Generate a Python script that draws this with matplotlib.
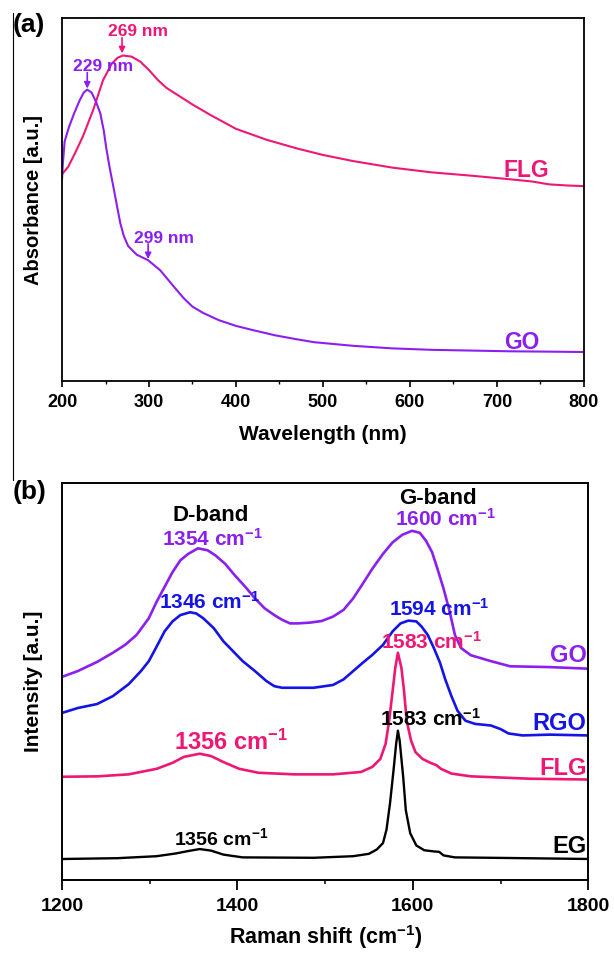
import matplotlib
matplotlib.use("Agg")
import matplotlib.pyplot as plt
from matplotlib.ticker import MultipleLocator
from matplotlib.lines import Line2D

plt.rcParams['font.family'] = ['Liberation Sans', 'DejaVu Sans']
plt.rcParams['font.weight'] = 'bold'
plt.rcParams['mathtext.fontset'] = 'custom'
plt.rcParams['mathtext.rm'] = 'Liberation Sans:bold'
plt.rcParams['mathtext.bf'] = 'Liberation Sans:bold'
plt.rcParams['mathtext.it'] = 'Liberation Sans:bold'
plt.rcParams['mathtext.default'] = 'rm'

# ---------------- data: panel (a) UV-vis ----------------
flg_uv_wl = [200, 207, 215, 224, 236, 247, 257, 264, 270, 280, 290, 300, 310, 320, 335,
             350, 370, 400, 435, 470, 500, 535, 580, 625, 670, 715, 740, 760, 780, 800]
flg_uv_abs = [0.570, 0.590, 0.628, 0.674, 0.748, 0.828, 0.874, 0.891, 0.897, 0.894, 0.880,
              0.857, 0.830, 0.808, 0.785, 0.762, 0.734, 0.695, 0.665, 0.641, 0.623, 0.606,
              0.588, 0.575, 0.566, 0.556, 0.550, 0.542, 0.539, 0.537]
go_uv_wl = [200, 201, 203, 208, 214, 220, 225, 229, 234, 239, 244, 248, 251, 255, 259, 263,
            267, 271, 276, 286, 299, 313, 330, 340, 350, 362, 380, 400, 420, 445, 470, 490,
            535, 580, 625, 670, 715, 760, 800]
go_uv_abs = [0.555, 0.600, 0.660, 0.700, 0.738, 0.772, 0.795, 0.803, 0.795, 0.770, 0.738,
             0.690, 0.640, 0.585, 0.536, 0.485, 0.435, 0.400, 0.372, 0.348, 0.333, 0.305,
             0.256, 0.228, 0.205, 0.188, 0.168, 0.152, 0.140, 0.126, 0.115, 0.107, 0.097,
             0.090, 0.086, 0.084, 0.082, 0.081, 0.080]
uv_xticks = [200, 300, 400, 500, 600, 700, 800]

# ---------------- data: panel (b) Raman ----------------
go_ram_x = [1202, 1218, 1240, 1258, 1272, 1285, 1299, 1308, 1317, 1326, 1335, 1344, 1355,
            1366, 1375, 1386, 1397, 1409, 1420, 1431, 1442, 1451, 1460, 1469, 1483, 1496,
            1509, 1521, 1532, 1543, 1554, 1566, 1577, 1588, 1599, 1608, 1615, 1622, 1628,
            1635, 1642, 1648, 1655, 1666, 1689, 1711, 1756, 1800]
go_ram_y = [0.513, 0.526, 0.549, 0.572, 0.592, 0.617, 0.659, 0.701, 0.738, 0.775, 0.805,
            0.821, 0.835, 0.830, 0.817, 0.796, 0.767, 0.738, 0.709, 0.684, 0.667, 0.655,
            0.646, 0.646, 0.648, 0.652, 0.663, 0.680, 0.709, 0.746, 0.784, 0.821, 0.850,
            0.869, 0.879, 0.874, 0.854, 0.825, 0.784, 0.734, 0.676, 0.617, 0.584, 0.566,
            0.551, 0.538, 0.536, 0.532]
rgo_ram_x = [1202, 1218, 1240, 1258, 1276, 1290, 1299, 1308, 1317, 1326, 1335, 1346, 1353,
             1361, 1373, 1384, 1395, 1406, 1420, 1433, 1442, 1451, 1469, 1487, 1509, 1521,
             1532, 1543, 1554, 1566, 1577, 1586, 1595, 1604, 1610, 1617, 1624, 1631, 1637,
             1644, 1651, 1660, 1671, 1689, 1700, 1709, 1725, 1756, 1800]
rgo_ram_y = [0.422, 0.433, 0.443, 0.463, 0.493, 0.526, 0.551, 0.588, 0.626, 0.651, 0.667,
             0.674, 0.671, 0.659, 0.634, 0.601, 0.576, 0.551, 0.526, 0.501, 0.488, 0.484,
             0.484, 0.484, 0.491, 0.505, 0.526, 0.547, 0.567, 0.592, 0.626, 0.646, 0.653,
             0.651, 0.638, 0.617, 0.584, 0.547, 0.505, 0.463, 0.426, 0.401, 0.393, 0.389,
             0.380, 0.369, 0.364, 0.366, 0.364]
flg_ram_x = [1202, 1240, 1276, 1308, 1326, 1339, 1357, 1370, 1384, 1402, 1424, 1465, 1509,
             1541, 1554, 1563, 1569, 1573, 1577, 1580, 1583, 1587, 1590, 1593, 1598, 1603,
             1611, 1620, 1627, 1632, 1644, 1666, 1734, 1800]
flg_ram_y = [0.260, 0.261, 0.266, 0.280, 0.295, 0.310, 0.318, 0.312, 0.297, 0.280, 0.270,
             0.266, 0.266, 0.272, 0.285, 0.305, 0.343, 0.401, 0.476, 0.534, 0.572, 0.534,
             0.476, 0.401, 0.351, 0.322, 0.305, 0.295, 0.289, 0.280, 0.268, 0.261, 0.255,
             0.253]
eg_ram_x = [1202, 1263, 1308, 1330, 1344, 1357, 1370, 1384, 1406, 1487, 1532, 1550, 1559,
            1566, 1570, 1574, 1578, 1581, 1583, 1585, 1589, 1592, 1597, 1604, 1613, 1624,
            1630, 1635, 1648, 1689, 1800]
eg_ram_y = [0.053, 0.055, 0.060, 0.067, 0.073, 0.078, 0.074, 0.064, 0.057, 0.056, 0.060,
            0.066, 0.077, 0.093, 0.127, 0.193, 0.276, 0.343, 0.376, 0.351, 0.260, 0.176,
            0.118, 0.087, 0.075, 0.072, 0.071, 0.062, 0.057, 0.056, 0.053]
ram_xticks = [1200, 1400, 1600, 1800]

PINK = '#EE1874'
PURPLE = '#8B1FF0'
BLUE = '#1414E6'
BLACK = '#000000'

fig = plt.figure(figsize=(6.14, 9.55), dpi=100)
ax1 = fig.add_axes([0.101, 0.601, 0.850, 0.380])
ax2 = fig.add_axes([0.101, 0.0785, 0.857, 0.416])

# ---------- panel (a) ----------
ax1.plot(flg_uv_wl, flg_uv_abs, color=PINK, lw=1.5)
ax1.plot(go_uv_wl, go_uv_abs, color=PURPLE, lw=1.5)
ax1.set_xlim(200, 800)
ax1.set_ylim(0, 1)
ax1.set_xticks(uv_xticks)
ax1.xaxis.set_minor_locator(MultipleLocator(50))
ax1.set_yticks([])
ax1.tick_params(axis='x', which='major', direction='out', length=4.5, width=1.2,
                labelsize=13, pad=5)
ax1.tick_params(axis='x', which='minor', direction='out', length=2.5, width=1.0)
for sp in ax1.spines.values():
    sp.set_linewidth(1.3)
ax1.set_xlabel('Wavelength (nm)', fontsize=15, fontweight='bold', labelpad=10)
ax1.set_ylabel('Absorbance [a.u.]', fontsize=14.5, fontweight='bold', labelpad=14)

arrow_kw = dict(arrowstyle='-|>', lw=1.2, mutation_scale=9, shrinkA=0, shrinkB=0)
ax1.annotate('', xy=(269, 0.903), xytext=(269, 0.946), arrowprops=dict(color=PINK, **arrow_kw))
ax1.annotate('', xy=(229, 0.806), xytext=(229, 0.850), arrowprops=dict(color=PURPLE, **arrow_kw))
ax1.annotate('', xy=(299, 0.336), xytext=(299, 0.378), arrowprops=dict(color=PURPLE, **arrow_kw))
ax1.text(253, 0.950, '269 nm', color=PINK, fontsize=12.5, fontweight='bold', ha='left', va='baseline')
ax1.text(213, 0.854, '229 nm', color=PURPLE, fontsize=12.5, fontweight='bold', ha='left', va='baseline')
ax1.text(283, 0.381, '299 nm', color=PURPLE, fontsize=12.5, fontweight='bold', ha='left', va='baseline')
ax1.text(760, 0.563, 'FLG', color=PINK, fontsize=16.5, fontweight='bold', ha='right', va='baseline')
ax1.text(749, 0.089, 'GO', color=PURPLE, fontsize=16.5, fontweight='bold', ha='right', va='baseline')

# ---------- panel (b) ----------
ax2.plot(go_ram_x, go_ram_y, color=PURPLE, lw=1.9)
ax2.plot(rgo_ram_x, rgo_ram_y, color=BLUE, lw=1.9)
ax2.plot(flg_ram_x, flg_ram_y, color=PINK, lw=1.9)
ax2.plot(eg_ram_x, eg_ram_y, color=BLACK, lw=1.7)
ax2.set_xlim(1200, 1800)
ax2.set_ylim(0, 1)
ax2.set_xticks(ram_xticks)
ax2.xaxis.set_minor_locator(MultipleLocator(100))
ax2.set_yticks([])
ax2.tick_params(axis='x', which='major', direction='out', length=7, width=1.3,
                labelsize=14, pad=6)
ax2.tick_params(axis='x', which='minor', direction='out', length=3, width=1.1)
for sp in ax2.spines.values():
    sp.set_linewidth(1.4)
ax2.set_xlabel('Raman shift (cm$^{-1}$)', fontsize=15.5, fontweight='bold', labelpad=6)
ax2.set_ylabel('Intensity [a.u.]', fontsize=15, fontweight='bold', labelpad=14)

CM = ' cm$^{-1}$'
ax2.text(1370, 0.904, 'D-band', color=BLACK, fontsize=16, ha='center', va='baseline')
ax2.text(1629, 0.947, 'G-band', color=BLACK, fontsize=16, ha='center', va='baseline')
ax2.text(1372, 0.842, '1354' + CM, color=PURPLE, fontsize=15, ha='center', va='baseline')
ax2.text(1637, 0.892, '1600' + CM, color=PURPLE, fontsize=15, ha='center', va='baseline')
ax2.text(1368, 0.683, '1346' + CM, color=BLUE, fontsize=15, ha='center', va='baseline')
ax2.text(1630, 0.664, '1594' + CM, color=BLUE, fontsize=15, ha='center', va='baseline')
ax2.text(1621, 0.583, '1583' + CM, color=PINK, fontsize=15, ha='center', va='baseline')
ax2.text(1393, 0.328, '1356' + CM, color=PINK, fontsize=17, ha='center', va='baseline')
ax2.text(1620, 0.389, '1583' + CM, color=BLACK, fontsize=15, ha='center', va='baseline')
ax2.text(1382, 0.087, '1356' + CM, color=BLACK, fontsize=14, ha='center', va='baseline')
ax2.text(1798, 0.549, 'GO', color=PURPLE, fontsize=17, ha='right', va='baseline')
ax2.text(1798, 0.378, 'RGO', color=BLUE, fontsize=17, ha='right', va='baseline')
ax2.text(1798, 0.264, 'FLG', color=PINK, fontsize=17, ha='right', va='baseline')
ax2.text(1798, 0.069, 'EG', color=BLACK, fontsize=17, ha='right', va='baseline')

# panel letters and left border line
fig.text(13 / 614, 1 - 13 / 955, '(a)', fontsize=19, fontweight='bold', ha='left', va='top')
fig.text(13 / 614, 1 - 480 / 955, '(b)', fontsize=19, fontweight='bold', ha='left', va='top')
fig.add_artist(Line2D([13 / 614, 13 / 614], [1 - 13 / 955, 1 - 480 / 955],
                      transform=fig.transFigure, color='black', lw=0.8))

fig.savefig('out.png', dpi=100)
